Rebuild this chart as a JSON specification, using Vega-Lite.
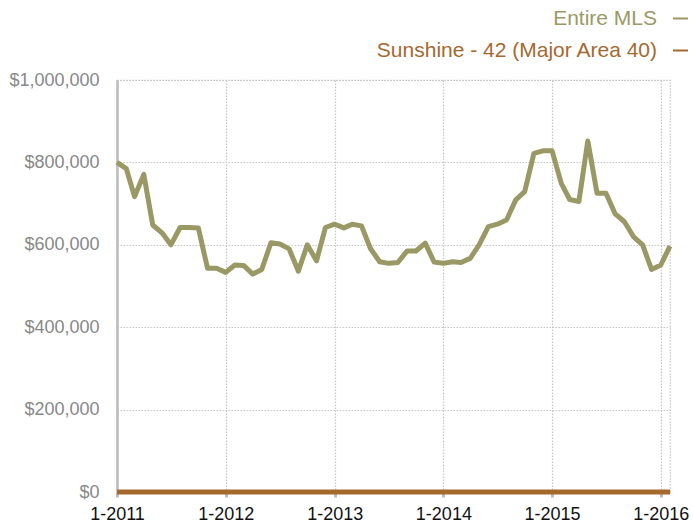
{
  "$schema": "https://vega.github.io/schema/vega-lite/v6.json",
  "width": 553,
  "height": 412,
  "autosize": "none",
  "padding": {"left": 117, "top": 80, "right": 23, "bottom": 33},
  "background": "white",
  "config": {
    "font": "Liberation Sans",
    "view": {"stroke": "#c6c6c6", "strokeDash": [1.5, 1.5], "strokeWidth": 1.2}
  },
  "datasets": {
    "mls": [
      {"date": "2011-01-01", "v": 800000}, {"date": "2011-02-01", "v": 785000}, {"date": "2011-03-01", "v": 717000},
      {"date": "2011-04-01", "v": 771000}, {"date": "2011-05-01", "v": 648000}, {"date": "2011-06-01", "v": 629000},
      {"date": "2011-07-01", "v": 600000}, {"date": "2011-08-01", "v": 642000}, {"date": "2011-09-01", "v": 642000},
      {"date": "2011-10-01", "v": 641000}, {"date": "2011-11-01", "v": 543000}, {"date": "2011-12-01", "v": 543000},
      {"date": "2012-01-01", "v": 533000}, {"date": "2012-02-01", "v": 551000}, {"date": "2012-03-01", "v": 550000},
      {"date": "2012-04-01", "v": 529000}, {"date": "2012-05-01", "v": 540000}, {"date": "2012-06-01", "v": 605000},
      {"date": "2012-07-01", "v": 602000}, {"date": "2012-08-01", "v": 590000}, {"date": "2012-09-01", "v": 536000},
      {"date": "2012-10-01", "v": 600000}, {"date": "2012-11-01", "v": 561000}, {"date": "2012-12-01", "v": 642000},
      {"date": "2013-01-01", "v": 650000}, {"date": "2013-02-01", "v": 641000}, {"date": "2013-03-01", "v": 650000},
      {"date": "2013-04-01", "v": 646000}, {"date": "2013-05-01", "v": 591000}, {"date": "2013-06-01", "v": 559000},
      {"date": "2013-07-01", "v": 555000}, {"date": "2013-08-01", "v": 557000}, {"date": "2013-09-01", "v": 585000},
      {"date": "2013-10-01", "v": 585000}, {"date": "2013-11-01", "v": 604000}, {"date": "2013-12-01", "v": 558000},
      {"date": "2014-01-01", "v": 555000}, {"date": "2014-02-01", "v": 559000}, {"date": "2014-03-01", "v": 557000},
      {"date": "2014-04-01", "v": 567000}, {"date": "2014-05-01", "v": 600000}, {"date": "2014-06-01", "v": 644000},
      {"date": "2014-07-01", "v": 650000}, {"date": "2014-08-01", "v": 660000}, {"date": "2014-09-01", "v": 709000},
      {"date": "2014-10-01", "v": 729000}, {"date": "2014-11-01", "v": 822000}, {"date": "2014-12-01", "v": 828000},
      {"date": "2015-01-01", "v": 828000}, {"date": "2015-02-01", "v": 749000}, {"date": "2015-03-01", "v": 710000},
      {"date": "2015-04-01", "v": 705000}, {"date": "2015-05-01", "v": 852000}, {"date": "2015-06-01", "v": 725000},
      {"date": "2015-07-01", "v": 725000}, {"date": "2015-08-01", "v": 675000}, {"date": "2015-09-01", "v": 656000},
      {"date": "2015-10-01", "v": 620000}, {"date": "2015-11-01", "v": 600000}, {"date": "2015-12-01", "v": 540000},
      {"date": "2016-01-01", "v": 551000}, {"date": "2016-02-01", "v": 597000}
    ],
    "sun": [
      {"date": "2011-01-01", "v": 0}, {"date": "2011-02-01", "v": 0}, {"date": "2011-03-01", "v": 0},
      {"date": "2011-04-01", "v": 0}, {"date": "2011-05-01", "v": 0}, {"date": "2011-06-01", "v": 0},
      {"date": "2011-07-01", "v": 0}, {"date": "2011-08-01", "v": 0}, {"date": "2011-09-01", "v": 0},
      {"date": "2011-10-01", "v": 0}, {"date": "2011-11-01", "v": 0}, {"date": "2011-12-01", "v": 0},
      {"date": "2012-01-01", "v": 0}, {"date": "2012-02-01", "v": 0}, {"date": "2012-03-01", "v": 0},
      {"date": "2012-04-01", "v": 0}, {"date": "2012-05-01", "v": 0}, {"date": "2012-06-01", "v": 0},
      {"date": "2012-07-01", "v": 0}, {"date": "2012-08-01", "v": 0}, {"date": "2012-09-01", "v": 0},
      {"date": "2012-10-01", "v": 0}, {"date": "2012-11-01", "v": 0}, {"date": "2012-12-01", "v": 0},
      {"date": "2013-01-01", "v": 0}, {"date": "2013-02-01", "v": 0}, {"date": "2013-03-01", "v": 0},
      {"date": "2013-04-01", "v": 0}, {"date": "2013-05-01", "v": 0}, {"date": "2013-06-01", "v": 0},
      {"date": "2013-07-01", "v": 0}, {"date": "2013-08-01", "v": 0}, {"date": "2013-09-01", "v": 0},
      {"date": "2013-10-01", "v": 0}, {"date": "2013-11-01", "v": 0}, {"date": "2013-12-01", "v": 0},
      {"date": "2014-01-01", "v": 0}, {"date": "2014-02-01", "v": 0}, {"date": "2014-03-01", "v": 0},
      {"date": "2014-04-01", "v": 0}, {"date": "2014-05-01", "v": 0}, {"date": "2014-06-01", "v": 0},
      {"date": "2014-07-01", "v": 0}, {"date": "2014-08-01", "v": 0}, {"date": "2014-09-01", "v": 0},
      {"date": "2014-10-01", "v": 0}, {"date": "2014-11-01", "v": 0}, {"date": "2014-12-01", "v": 0},
      {"date": "2015-01-01", "v": 0}, {"date": "2015-02-01", "v": 0}, {"date": "2015-03-01", "v": 0},
      {"date": "2015-04-01", "v": 0}, {"date": "2015-05-01", "v": 0}, {"date": "2015-06-01", "v": 0},
      {"date": "2015-07-01", "v": 0}, {"date": "2015-08-01", "v": 0}, {"date": "2015-09-01", "v": 0},
      {"date": "2015-10-01", "v": 0}, {"date": "2015-11-01", "v": 0}, {"date": "2015-12-01", "v": 0},
      {"date": "2016-01-01", "v": 0}, {"date": "2016-02-01", "v": 0}
    ]
  },
  "encoding": {
    "x": {
      "field": "date",
      "type": "temporal",
      "scale": {
        "type": "utc",
        "domain": [
          {"year": 2011, "month": 1, "date": 1, "utc": true},
          {"year": 2016, "month": 2, "date": 1, "utc": true}
        ]
      },
      "axis": {
        "title": null,
        "format": "%-m-%Y",
        "values": [
          {"year": 2011, "month": 1, "date": 1, "utc": true},
          {"year": 2012, "month": 1, "date": 1, "utc": true},
          {"year": 2013, "month": 1, "date": 1, "utc": true},
          {"year": 2014, "month": 1, "date": 1, "utc": true},
          {"year": 2015, "month": 1, "date": 1, "utc": true},
          {"year": 2016, "month": 1, "date": 1, "utc": true}
        ],
        "labelFont": "Liberation Sans",
        "labelFontSize": 18,
        "labelColor": "#111111",
        "labelPadding": 8,
        "labelFlush": false,
        "domain": true,
        "domainColor": "#bbbbbb",
        "domainWidth": 2,
        "ticks": true,
        "tickColor": "#bbbbbb",
        "tickWidth": 3,
        "tickSize": 5,
        "grid": true,
        "gridColor": "#c6c6c6",
        "gridDash": [1.5, 1.5],
        "gridWidth": 1.2
      }
    },
    "y": {
      "field": "v",
      "type": "quantitative",
      "scale": {"domain": [0, 1000000], "nice": false},
      "axis": {
        "title": null,
        "values": [0, 200000, 400000, 600000, 800000, 1000000],
        "format": "$,.0f",
        "labelFont": "Liberation Sans",
        "labelFontSize": 18,
        "labelColor": "#888888",
        "labelPadding": 18,
        "ticks": false,
        "domain": true,
        "domainColor": "#bbbbbb",
        "domainWidth": 2.5,
        "grid": true,
        "gridColor": "#c6c6c6",
        "gridDash": [1.5, 1.5],
        "gridWidth": 1.2
      }
    },
    "color": {
      "field": "series",
      "type": "nominal",
      "scale": {
        "domain": ["Entire MLS", "Sunshine - 42 (Major Area 40)"],
        "range": ["#9a9966", "#a5692f"]
      },
      "legend": {
        "orient": "none",
        "legendX": 553,
        "legendY": -72,
        "title": null,
        "symbolType": "stroke",
        "symbolSize": 225,
        "symbolStrokeWidth": 2,
        "symbolOffset": 0,
        "labelAlign": "right",
        "labelOffset": -34,
        "labelLimit": 500,
        "labelFont": "Liberation Sans",
        "labelFontSize": 21,
        "labelColor": {"expr": "datum.label == 'Entire MLS' ? '#9a9966' : '#a5692f'"},
        "rowPadding": 10
      }
    }
  },
  "layer": [
    {
      "data": {"name": "mls"},
      "transform": [{"calculate": "'Entire MLS'", "as": "series"}],
      "mark": {"type": "line", "strokeWidth": 5, "strokeJoin": "round"}
    },
    {
      "data": {"name": "sun"},
      "transform": [{"calculate": "'Sunshine - 42 (Major Area 40)'", "as": "series"}],
      "mark": {"type": "line", "strokeWidth": 5, "strokeCap": "butt"}
    }
  ]
}
